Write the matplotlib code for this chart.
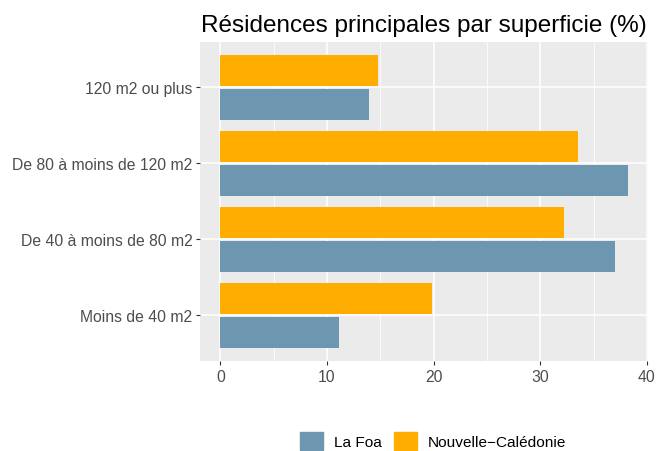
import matplotlib.pyplot as plt
from matplotlib.patches import Patch
import numpy as np

categories = ['Moins de 40 m2', 'De 40 à moins de 80 m2', 'De 80 à moins de 120 m2', '120 m2 ou plus']
la_foa = [11.1, 37.0, 38.2, 13.9]
nouvelle_caledonie = [19.8, 32.2, 33.5, 14.75]
series_names = ['La Foa', 'Nouvelle\u2212Calédonie']

blue = '#6D97B0'
orange = '#FFAD00'

plt.rcParams['font.family'] = ['Liberation Sans', 'DejaVu Sans']

fig = plt.figure(figsize=(6.6, 4.52), dpi=100)
ax = fig.add_axes([200 / 660, 1 - 362 / 452, 448 / 660, 319.3 / 452])
ax.set_facecolor('#EBEBEB')

y = np.arange(1, len(categories) + 1)
h = 0.41
ax.barh(y - 0.222, la_foa, height=h, color=blue, zorder=3)
ax.barh(y + 0.222, nouvelle_caledonie, height=h, color=orange, zorder=3)

ax.set_xlim(-1.91, 40.1)
ax.set_ylim(0.4, 4.6)
ax.set_xticks([0, 10, 20, 30, 40])
ax.set_xticks([5, 15, 25, 35], minor=True)
ax.set_yticks(y)
ax.set_yticklabels(categories)

ax.grid(which='major', color='white', linewidth=1.1, zorder=1)
ax.grid(which='minor', axis='x', color='white', linewidth=0.55, zorder=1)
for s in ax.spines.values():
    s.set_visible(False)
ax.tick_params(which='major', length=3, color='#333333', labelcolor='#4D4D4D', labelsize=11.3, pad=2.5)
ax.tick_params(which='minor', length=0)

ax.set_title('Résidences principales par superficie (%)', fontsize=17.5, pad=8)

handles = [Patch(color=blue), Patch(color=orange)]
fig.legend(handles, series_names, loc='center', bbox_to_anchor=(433 / 660, 1 - 442 / 452),
           ncol=2, frameon=False, fontsize=11.1, handlelength=1.5, handleheight=1.35,
           handletextpad=0.7, columnspacing=0.75)

fig.savefig('out.png', dpi=100)
